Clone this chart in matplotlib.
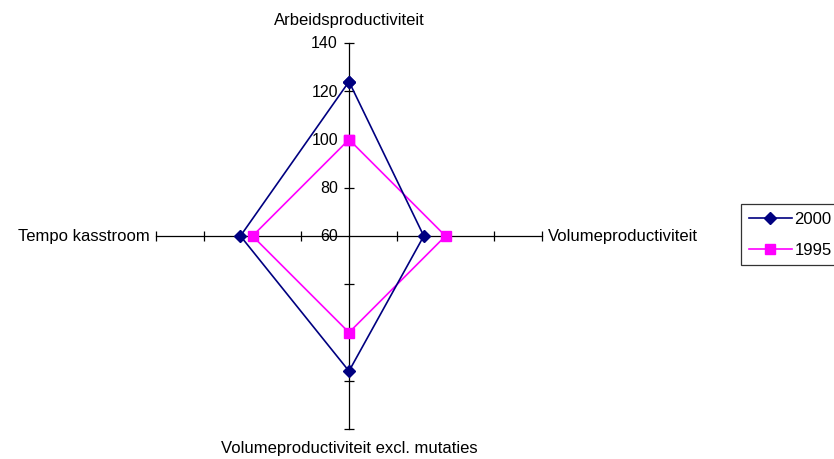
import matplotlib
matplotlib.use("Agg")
import matplotlib.pyplot as plt
import numpy as np

plt.rcParams["font.family"] = ["Liberation Sans", "DejaVu Sans"]

categories = [
    "Arbeidsproductiviteit",
    "Volumeproductiviteit",
    "Volumeproductiviteit excl. mutaties",
    "Tempo kasstroom",
]
values_2000 = [124, 91, 116, 105]
values_1995 = [100, 100, 100, 100]
r_ticks = [60, 80, 100, 120, 140]
r_min, r_max = 60, 140

# directions: top, right, bottom, left (clockwise like Excel radar)
dirs = np.array([[0, 1], [1, 0], [0, -1], [-1, 0]], dtype=float)


def to_xy(vals):
    r = np.asarray(vals, dtype=float) - r_min
    pts = dirs * r[:, None]
    pts = np.vstack([pts, pts[:1]])
    return pts[:, 0], pts[:, 1]


W, H = 834, 460
cx, cy = 349, 237  # centre in pixels (from top)
scale = 193 / (r_max - r_min)  # px per unit

fig = plt.figure(figsize=(W / 100, H / 100), dpi=100)
ax = fig.add_axes([0, 0, 1, 1])
ax.set_xlim(-cx / scale, (W - cx) / scale)
ax.set_ylim(-(H - cy) / scale, cy / scale)
ax.axis("off")

span = r_max - r_min
tick_r = np.array(r_ticks[1:], dtype=float) - r_min
for d in dirs:
    ax.plot([0, d[0] * span], [0, d[1] * span], color="black", lw=0.9, zorder=1)
    marker = "|" if d[1] == 0 else "_"
    ax.plot(d[0] * tick_r, d[1] * tick_r, ls="none", marker=marker,
            color="black", ms=7, mew=0.9, zorder=1)

for t in r_ticks:
    ax.text(-11 / scale, t - r_min, str(t), ha="right", va="center", fontsize=11.5)

x, y = to_xy(values_2000)
ax.plot(x, y, color="#000080", lw=1.2, marker="D", ms=6, mfc="#000080",
        mec="#000080", label="2000", zorder=3)
x, y = to_xy(values_1995)
ax.plot(x, y, color="#FF00FF", lw=1.2, marker="s", ms=7, mfc="#FF00FF",
        mec="#FF00FF", label="1995", zorder=2)

off = 6 / scale
ax.text(0, span + 23 / scale, categories[0], ha="center", va="center", fontsize=12)
ax.text(span + off, 0, categories[1], ha="left", va="center", fontsize=12)
ax.text(0, -span - 19 / scale, categories[2], ha="center", va="center", fontsize=12)
ax.text(-span - off, 0, categories[3], ha="right", va="center", fontsize=12)

leg = ax.legend(loc="upper left", bbox_to_anchor=(741 / W, 1 - 205 / H),
                frameon=True, fancybox=False, edgecolor="black", fontsize=12,
                handlelength=2.6, handletextpad=0.15, borderpad=0.45,
                labelspacing=0.95, borderaxespad=0)
leg.get_frame().set_linewidth(0.9)

fig.savefig("out.png", dpi=100)
